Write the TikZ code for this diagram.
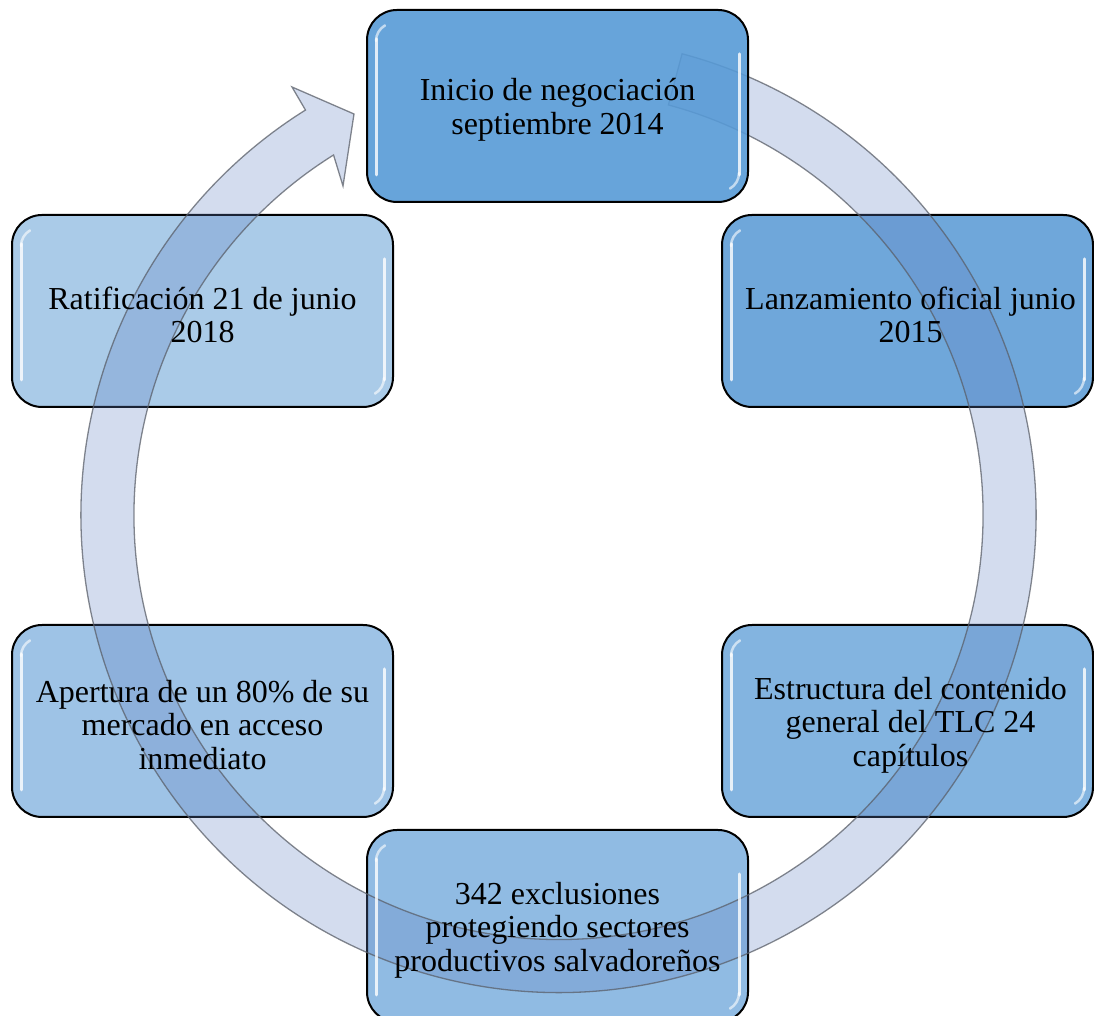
\documentclass[tikz,border=0pt]{standalone}
\usepackage{fontspec}
\setmainfont{Liberation Serif}
\usetikzlibrary{calc}
\definecolor{cA}{RGB}{87,154,214}
\definecolor{cB}{RGB}{111,167,218}
\definecolor{cC}{RGB}{131,180,224}
\definecolor{cD}{RGB}{144,187,227}
\definecolor{cE}{RGB}{158,195,230}
\definecolor{cF}{RGB}{170,203,232}
\definecolor{ringfill}{RGB}{98,130,194}
\definecolor{ringline}{RGB}{90,95,105}
\tikzset{
  cyclebox/.style={draw=black, line width=2pt, rounded corners=30pt,
    minimum height=192pt, inner sep=0pt},
  boxtext/.style={align=center, inner sep=0pt, font=\fontsize{32}{33.5}\selectfont, text=black},
  gloss/.style={white, line width=3pt, line cap=round, opacity=0.8},
  ringstyle/.style={fill=ringfill, fill opacity=0.28, draw=ringline, draw opacity=0.75, line width=1.3pt}
}
\begin{document}
\begin{tikzpicture}[x=1pt,y=1pt]
\useasboundingbox (0,0) rectangle (1094,1016);
\clip (0,0) rectangle (1094,1016);
\coordinate (c) at (558.5,501);
% boxes (except the first, drawn above the ring)
\node[cyclebox, fill=cB, minimum width=371pt] (n2) at (907.5,705) {};
\node[cyclebox, fill=cC, minimum width=371pt] (n3) at (907.5,295) {};
\node[cyclebox, fill=cD, minimum width=381pt] (n4) at (557.5,90) {};
\node[cyclebox, fill=cE, minimum width=381pt] (n5) at (202.5,295) {};
\node[cyclebox, fill=cF, minimum width=381pt] (n6) at (202.5,705) {};
% circular arrow
\path[ringstyle] (c) ++(75:477.5pt) arc[start angle=75, end angle=-238, radius=477.5pt]
  -- (292,929) -- (354,902) -- (343,830)
  -- ($(c)+(122:424.5pt)$) arc[start angle=-238, end angle=75, radius=424.5pt] -- cycle;
\node[cyclebox, fill=cA, fill opacity=0.9, minimum width=381pt] (n1) at (557.5,910) {};
% gloss highlights
\foreach \n in {n1,n2,n3,n4,n5,n6}{
  \draw[gloss] ($(\n.north west)+(10,-30)$) -- ($(\n.south west)+(10,28)$);
  \draw[gloss] ($(\n.north east)+(-10,-45)$) -- ($(\n.south east)+(-10,28)$);
  \draw[gloss, line width=2.5pt, opacity=0.6] ($(\n.north west)+(10,-32)$) arc[start angle=180, end angle=120, radius=18pt];
  \draw[gloss, line width=2.5pt, opacity=0.6] ($(\n.south east)+(-10,30)$) arc[start angle=0, end angle=-60, radius=18pt];
}
% texts
\node[boxtext] (t1) at ($(n1)+(0,-4)$) {Inicio de negociación\\septiembre 2014};
\node[boxtext] (t2) at ($(n2)+(3,-4)$) {Lanzamiento oficial junio\\2015};
\node[boxtext] (t3) at ($(n3)+(3,-4)$) {Estructura del contenido\\general del TLC 24\\capítulos};
\node[boxtext] (t4) at ($(n4)+(0,-4)$) {342 exclusiones\\protegiendo sectores\\productivos salvadoreños};
\node[boxtext] (t5) at ($(n5)+(0,-4)$) {Apertura de un 80\% de su\\mercado en acceso\\inmediato};
\node[boxtext] (t6) at ($(n6)+(0,-4)$) {Ratificación 21 de junio\\2018};
\end{tikzpicture}
\end{document}
